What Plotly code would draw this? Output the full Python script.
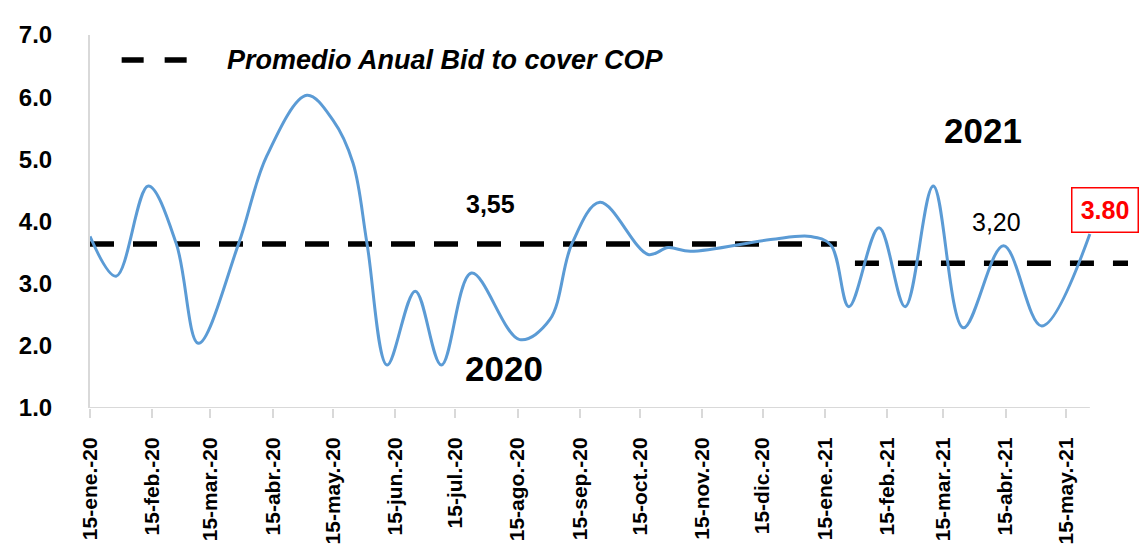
import plotly.graph_objects as go

# ---- data ----
dates = ["2020-01-15", "2020-01-28", "2020-02-13", "2020-02-27", "2020-03-09",
         "2020-03-29", "2020-04-12", "2020-05-02", "2020-05-15", "2020-05-25",
         "2020-06-01", "2020-06-11", "2020-06-25", "2020-07-08", "2020-07-23",
         "2020-08-16", "2020-08-31", "2020-09-11", "2020-09-25", "2020-10-19",
         "2020-10-29", "2020-11-09", "2020-12-19", "2021-01-08", "2021-01-18",
         "2021-01-27", "2021-02-11", "2021-02-24", "2021-03-10", "2021-03-25",
         "2021-04-14", "2021-05-03", "2021-05-27"]
bid_to_cover = [3.76, 3.12, 4.57, 3.64, 2.04,
                3.64, 5.05, 6.03, 5.63, 4.94,
                3.64, 1.69, 2.88, 1.69, 3.17,
                2.10, 2.42, 3.64, 4.31, 3.47,
                3.58, 3.52, 3.71, 3.76, 3.62,
                2.63, 3.90, 2.63, 4.57, 2.29,
                3.61, 2.32, 3.80]

avg_2020_dates = ["2020-01-15", "2021-01-21"]
avg_2020_values = [3.64, 3.64]
avg_2020_label = "3,55"
avg_2021_dates = ["2021-01-30", "2021-06-15"]
avg_2021_values = [3.33, 3.33]
avg_2021_label = "3,20"
last_label = "3.80"

tick_dates = ["2020-01-15", "2020-02-15", "2020-03-15", "2020-04-15", "2020-05-15",
              "2020-06-15", "2020-07-15", "2020-08-15", "2020-09-15", "2020-10-15",
              "2020-11-15", "2020-12-15", "2021-01-15", "2021-02-15", "2021-03-15",
              "2021-04-15", "2021-05-15"]
tick_labels = ["15-ene.-20", "15-feb.-20", "15-mar.-20", "15-abr.-20", "15-may.-20",
               "15-jun.-20", "15-jul.-20", "15-ago.-20", "15-sep.-20", "15-oct.-20",
               "15-nov.-20", "15-dic.-20", "15-ene.-21", "15-feb.-21", "15-mar.-21",
               "15-abr.-21", "15-may.-21"]
legend_text = "Promedio Anual Bid to cover COP"

FONT = "Liberation Sans, Arial, sans-serif"
NARROW = "Liberation Sans Narrow, Arial Narrow, Liberation Sans, Arial, sans-serif"

fig = go.Figure()
fig.add_trace(go.Scatter(x=avg_2020_dates, y=avg_2020_values, mode="lines",
                         line=dict(color="black", width=5.5, dash="24px,19px"),
                         showlegend=False, hoverinfo="skip"))
fig.add_trace(go.Scatter(x=avg_2021_dates, y=avg_2021_values, mode="lines",
                         line=dict(color="black", width=5.5, dash="24px,19px"),
                         showlegend=False, hoverinfo="skip"))
fig.add_trace(go.Scatter(x=dates, y=bid_to_cover, mode="lines",
                         line=dict(color="#5B9BD5", width=3, shape="spline", smoothing=1),
                         showlegend=False))

# x-axis baseline (ends at last data point)
fig.add_shape(type="line", xref="x", yref="y", x0=dates[0], x1=dates[-1], y0=1, y1=1,
              line=dict(color="#D9D9D9", width=2), layer="below")

# legend sample
fig.add_shape(type="line", xref="paper", yref="paper", x0=0.0305, x1=0.0946, y0=0.933, y1=0.933,
              line=dict(color="black", width=5.5, dash="22px,21px"))
fig.add_annotation(xref="paper", yref="paper", x=0.1301, y=0.933, text=legend_text,
                   showarrow=False, xanchor="left", yanchor="middle",
                   font=dict(family=FONT, size=27, color="black", weight="bold", style="italic"))

fig.add_annotation(xref="paper", yref="paper", x=0.3863, y=0.5469, text=avg_2020_label,
                   showarrow=False, xanchor="center", yanchor="middle",
                   font=dict(family=FONT, size=25, color="black", weight="bold"))
fig.add_annotation(xref="paper", yref="paper", x=0.8733, y=0.4987, text=avg_2021_label,
                   showarrow=False, xanchor="center", yanchor="middle",
                   font=dict(family=FONT, size=25, color="black"))
fig.add_annotation(xref="paper", yref="paper", x=0.3988, y=0.1046, text="2020",
                   showarrow=False, xanchor="center", yanchor="middle",
                   font=dict(family=NARROW, size=35, color="black", weight="bold"))
fig.add_annotation(xref="paper", yref="paper", x=0.8603, y=0.7453, text="2021",
                   showarrow=False, xanchor="center", yanchor="middle",
                   font=dict(family=NARROW, size=35, color="black", weight="bold"))
fig.add_annotation(x=dates[-1], y=bid_to_cover[-1], text=last_label, showarrow=False,
                   xanchor="center", yanchor="middle", xshift=15, yshift=24,
                   width=63, height=41, borderpad=1, bordercolor="#FF0000", borderwidth=1.5,
                   bgcolor="white",
                   font=dict(family=NARROW, size=25, color="#FF0000", weight="bold"))

fig.update_layout(
    width=1141, height=546,
    margin=dict(l=90, r=13, t=35, b=138, autoexpand=False),
    paper_bgcolor="white", plot_bgcolor="white",
    showlegend=False,
    xaxis=dict(type="date", range=["2020-01-15", "2021-06-15"],
               tickvals=tick_dates, ticktext=tick_labels, tickangle=-90,
               ticks="outside", ticklen=9, tickwidth=1.5, tickcolor="#D9D9D9",
               showgrid=False, zeroline=False, showline=False, automargin=False,
               ticklabelstandoff=11,
               tickfont=dict(family=FONT, size=21, color="black", weight="bold")),
    yaxis=dict(range=[1, 7], dtick=1, tickformat=".1f",
               showgrid=False, zeroline=False, showline=True, linecolor="#D9D9D9", linewidth=2,
               ticks="", automargin=False, ticklabelstandoff=31,
               tickfont=dict(family=FONT, size=24, color="black", weight="bold")),
)

fig.write_html("out.html", config={"displayModeBar": False},
               post_script="document.body.style.margin='0';document.body.style.overflow='hidden';")
